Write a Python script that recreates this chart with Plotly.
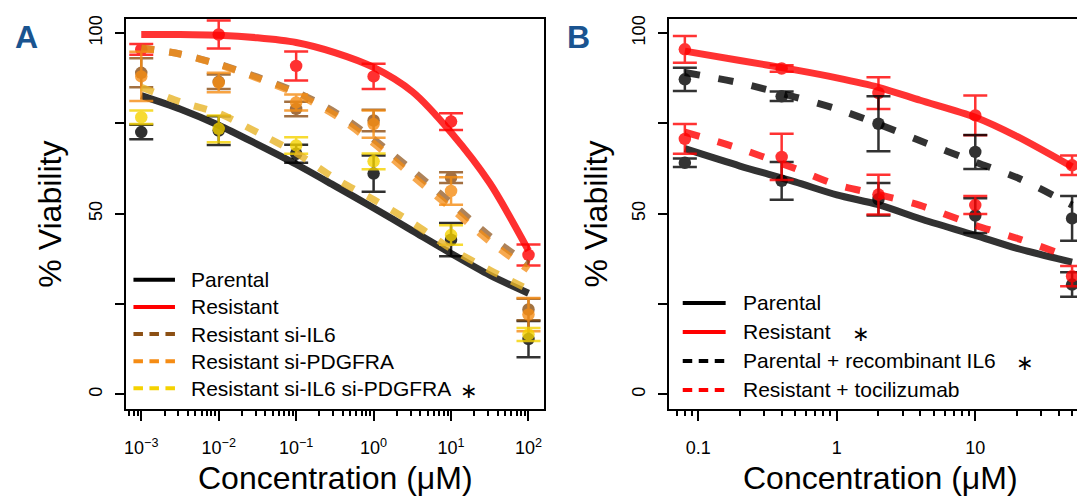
import numpy as np
import plotly.graph_objects as go

# ---------------- Panel A data ----------------
conc_a = [0.001, 0.01, 0.1, 1, 10, 100]
a_parental = [72.6, 73.0, 66.6, 61.1, 42.8, 15.3]
a_parental_err = [2.0, 4.0, 2.5, 5.0, 4.6, 5.0]
a_resistant = [95.5, 99.6, 90.9, 88.0, 75.5, 38.6]
a_resistant_err = [1.5, 3.9, 4.0, 3.5, 2.3, 2.9]
a_si_il6 = [89.0, 86.5, 79.0, 75.8, 60.0, 23.5]
a_si_il6_err = [4.0, 2.0, 2.0, 3.0, 1.5, 3.0]
a_si_pdgfra = [88.0, 86.3, 80.8, 74.8, 56.3, 22.1]
a_si_pdgfra_err = [6.8, 2.7, 2.2, 3.8, 3.8, 4.6]
a_si_both = [76.7, 73.5, 68.9, 64.5, 44.1, 16.6]
a_si_both_err = [1.9, 3.7, 2.3, 2.2, 2.7, 1.8]

# fitted curves
fit_a_conc = [0.001, 0.00316, 0.01, 0.0316, 0.1, 0.316, 1, 3.16, 10, 31.6, 100]
fit_a_parental = [82.7, 79.0, 74.5, 69.2, 63.7, 57.7, 51.6, 45.3, 39.0, 33.0, 28.0]
fit_a_resistant = [99.6, 99.6, 99.4, 98.7, 97.4, 94.6, 90.5, 83.8, 72.5, 58.5, 39.8]
fit_a_si_il6 = [95.9, 94.2, 91.4, 87.8, 83.7, 78.1, 70.6, 62.0, 53.0, 43.8, 36.0]
fit_a_si_pdgfra = [95.9, 94.2, 91.3, 87.5, 83.2, 77.3, 69.5, 60.5, 51.5, 42.3, 34.5]
fit_a_si_both = [85.0, 81.0, 77.8, 72.5, 66.8, 59.8, 53.9, 47.5, 40.3, 34.4, 29.0]

# ---------------- Panel B data ----------------
conc_b = [0.08, 0.4, 2, 10, 50]
b_parental = [64.1, 59.1, 54.0, 49.5, 30.4]
b_parental_err = [1.2, 5.2, 4.5, 4.8, 3.4]
b_resistant = [95.5, 90.2, 83.4, 77.2, 63.4]
b_resistant_err = [3.7, 0.9, 4.4, 5.5, 2.7]
b_par_il6 = [87.2, 82.5, 74.9, 67.1, 48.7]
b_par_il6_err = [3.2, 1.3, 7.6, 4.7, 6.2]
b_res_toci = [70.7, 65.7, 55.3, 52.4, 32.7]
b_res_toci_err = [4.1, 6.4, 5.5, 2.5, 2.8]

fit_b_conc = [0.08, 0.2, 0.5, 1, 2, 4, 10, 20, 50]
fit_b_parental = [68.0, 63.2, 58.8, 55.2, 52.5, 48.6, 44.0, 40.4, 36.6]
fit_b_resistant = [95.0, 92.4, 89.8, 87.6, 85.0, 81.4, 76.7, 71.4, 63.0]
fit_b_par_il6 = [89.1, 86.2, 82.3, 79.0, 74.8, 70.2, 64.3, 60.0, 52.4]
fit_b_res_toci = [72.6, 68.0, 62.5, 58.0, 55.3, 52.3, 46.8, 43.2, 37.8]

# ---------------- tick labels ----------------
a_tickvals = [0.001, 0.01, 0.1, 1, 10, 100]
a_ticktext = ["10<sup>−3</sup>", "10<sup>−2</sup>", "10<sup>−1</sup>",
              "10<sup>0</sup>", "10<sup>1</sup>", "10<sup>2</sup>"]
b_tickvals = [0.1, 1, 10]
b_ticktext = ["0.1", "1", "10"]
y_tickvals = [0, 50, 100]
y_ticktext = ["0", "50", "100"]
y_minor_vals = [25, 75]

legend_a = ["Parental", "Resistant", "Resistant si-IL6", "Resistant si-PDGFRA",
            "Resistant si-IL6 si-PDGFRA"]
legend_a_star = [False, False, False, False, True]
legend_b = ["Parental", "Resistant", "Parental + recombinant IL6", "Resistant + tocilizumab"]
legend_b_star = [False, True, True, False]

# ---------------- styles ----------------
FONT = "Liberation Sans, Arial, Helvetica, sans-serif"
W, H = 1077, 498
BLACK = "#000000"
RED = "#FF0000"
BROWN = "#8C5014"
ORANGE = "#F58C14"
YELLOW = "#F5D200"
YELLOW_LINE = "#E8B428"

fig = go.Figure()


def add_points(x, y, err, color, xa, ya):
    fig.add_trace(go.Scatter(
        x=x, y=y, mode="markers", xaxis=xa, yaxis=ya, showlegend=False,
        marker=dict(size=12.5, color=color),
        error_y=dict(type="data", array=err, visible=True, color=color,
                     thickness=2.5, width=12),
        opacity=0.8, hoverinfo="skip"))


def add_curve(x, y, color, dash, xa, ya, opacity=0.8):
    fig.add_trace(go.Scatter(
        x=x, y=y, mode="lines", xaxis=xa, yaxis=ya, showlegend=False,
        line=dict(color=color, width=7, dash=dash, shape="spline", smoothing=0.8),
        opacity=opacity, hoverinfo="skip"))


# Panel A
add_points(conc_a, a_parental, a_parental_err, BLACK, "x", "y")
add_curve(fit_a_conc, fit_a_parental, BLACK, "solid", "x", "y")
add_points(conc_a, a_resistant, a_resistant_err, RED, "x", "y")
add_curve(fit_a_conc, fit_a_resistant, RED, "solid", "x", "y")
add_points(conc_a, a_si_il6, a_si_il6_err, BROWN, "x", "y")
add_curve(fit_a_conc, fit_a_si_il6, BROWN, "13px,15px", "x", "y", 0.7)
add_points(conc_a, a_si_pdgfra, a_si_pdgfra_err, ORANGE, "x", "y")
add_curve(fit_a_conc, fit_a_si_pdgfra, ORANGE, "13px,15px", "x", "y", 0.75)
add_points(conc_a, a_si_both, a_si_both_err, YELLOW, "x", "y")
add_curve(fit_a_conc, fit_a_si_both, YELLOW_LINE, "13px,15px", "x", "y", 0.8)

# Panel B
add_points(conc_b, b_parental, b_parental_err, BLACK, "x2", "y2")
add_curve(fit_b_conc, fit_b_parental, BLACK, "solid", "x2", "y2")
add_points(conc_b, b_resistant, b_resistant_err, RED, "x2", "y2")
add_curve(fit_b_conc, fit_b_resistant, RED, "solid", "x2", "y2")
add_points(conc_b, b_par_il6, b_par_il6_err, BLACK, "x2", "y2")
add_curve(fit_b_conc, fit_b_par_il6, BLACK, "15px,19px", "x2", "y2")
add_points(conc_b, b_res_toci, b_res_toci_err, RED, "x2", "y2")
add_curve(fit_b_conc, fit_b_res_toci, RED, "15px,19px", "x2", "y2")

# ---------------- axes ----------------
PAD = 0.04
la = np.log10(conc_a)
span_a = la.max() - la.min()
range_a = [la.min() - PAD * span_a, la.max() + PAD * span_a]
lb = np.log10(conc_b)
span_b = lb.max() - lb.min()
full_b = [lb.min() - PAD * span_b, lb.max() + PAD * span_b]

plot_w = 419.0
a_left = 124.0
b_left = 668.6
visible_b = (W - b_left) / plot_w
range_b = [full_b[0], full_b[0] + (full_b[1] - full_b[0]) * visible_b]

top_px, bot_px = 15.7, 408.3
ydom = [1 - bot_px / H, 1 - top_px / H]

minor_a = [m * 10.0 ** e for e in range(-4, 3) for m in range(2, 10)]
minor_b = [m * 10.0 ** e for e in range(-2, 2) for m in range(2, 10)]

ax_common = dict(showline=True, linecolor="black", linewidth=2, ticks="outside",
                 tickwidth=2, tickcolor="black", showgrid=False,
                 zeroline=False, tickfont=dict(family=FONT, size=18, color="black"))

xminor = dict(ticks="outside", ticklen=5, tickwidth=2, tickcolor="black", showgrid=False)
yminor = dict(tickvals=y_minor_vals, ticks="outside", ticklen=9, tickwidth=2,
              tickcolor="black", showgrid=False)

fig.update_layout(
    xaxis=dict(type="log", domain=[a_left / W, (a_left + plot_w) / W], range=range_a,
               anchor="y", mirror=True, tickmode="array", tickvals=a_tickvals,
               ticktext=a_ticktext, ticklen=10, ticklabelstandoff=12,
               minor=dict(tickvals=minor_a, **xminor), **ax_common),
    yaxis=dict(domain=ydom, range=[-4, 104], anchor="x", mirror=True,
               tickmode="array", tickvals=y_tickvals, ticktext=y_ticktext,
               tickangle=-90, ticklen=9, ticklabelstandoff=6,
               minor=yminor, **ax_common),
    xaxis2=dict(type="log", domain=[b_left / W, 1.0], range=range_b, anchor="y2",
                mirror=True, tickmode="array", tickvals=b_tickvals, ticktext=b_ticktext,
                ticklen=10, ticklabelstandoff=12,
                minor=dict(tickvals=minor_b, **xminor), **ax_common),
    yaxis2=dict(domain=ydom, range=[-4, 104], anchor="x2", mirror=False,
                tickmode="array", tickvals=y_tickvals, ticktext=y_ticktext,
                tickangle=-90, ticklen=9, ticklabelstandoff=6,
                minor=yminor, **ax_common),
    width=W, height=H, margin=dict(l=0, r=0, t=0, b=0),
    paper_bgcolor="white", plot_bgcolor="white",
    font=dict(family=FONT, color="black"),
    showlegend=False,
)

annots = [
    dict(text="<b>A</b>", x=25 / W, y=1 - 34 / H, font=dict(family=FONT, size=32, color="#1A5490")),
    dict(text="<b>B</b>", x=577.5 / W, y=1 - 34 / H, font=dict(family=FONT, size=32, color="#1A5490")),
    dict(text="% Viability", x=48 / W, y=1 - 212 / H, textangle=-90, font=dict(family=FONT, size=32)),
    dict(text="% Viability", x=595 / W, y=1 - 212 / H, textangle=-90, font=dict(family=FONT, size=32)),
    dict(text="Concentration (μM)", x=334 / W, y=0, yanchor="bottom", font=dict(family=FONT, size=32)),
    dict(text="Concentration (μM)", x=880 / W, y=0, yanchor="bottom", font=dict(family=FONT, size=32)),
]

# ---------------- legends (drawn as keys + labels) ----------------
legend_a_colors = [BLACK, RED, BROWN, ORANGE, YELLOW]
legend_a_dash = ["solid", "solid", "9.5px,6.5px", "9.5px,6.5px", "9.5px,6.5px"]
legend_b_colors = [BLACK, RED, BLACK, RED]
legend_b_dash = ["solid", "solid", "9.5px,6.5px", "9.5px,6.5px"]


def draw_legend(labels, stars, colors, dashes, x0, x1, xt, y_first, step, star_x):
    for i, (lab, st, col, d) in enumerate(zip(labels, stars, colors, dashes)):
        yy = 1 - (y_first + i * step) / H
        fig.add_shape(type="line", xref="paper", yref="paper", x0=x0 / W, x1=x1 / W,
                      y0=yy, y1=yy, line=dict(color=col, width=4, dash=d))
        annots.append(dict(text=lab, x=xt / W, y=yy, xanchor="left",
                           font=dict(family=FONT, size=21)))
        if st:
            annots.append(dict(text="∗", x=star_x[i] / W, y=yy - 2 / H,
                               font=dict(family=FONT, size=21)))


draw_legend(legend_a, legend_a_star, legend_a_colors, legend_a_dash,
            131.7, 173.3, 187.5, 278.5, 27.3, [0, 0, 0, 0, 468])
draw_legend(legend_b, legend_b_star, legend_b_colors, legend_b_dash,
            682, 725, 740, 301.7, 29.2, [0, 861, 1025, 0])

for a in annots:
    a.setdefault("xref", "paper")
    a.setdefault("yref", "paper")
    a.setdefault("showarrow", False)
    a.setdefault("xanchor", "center")
    a.setdefault("yanchor", "middle")
fig.update_layout(annotations=annots)

fig.write_html("out.html", config={"displayModeBar": False},
               post_script="document.body.style.margin='0';document.body.style.overflow='hidden';")
